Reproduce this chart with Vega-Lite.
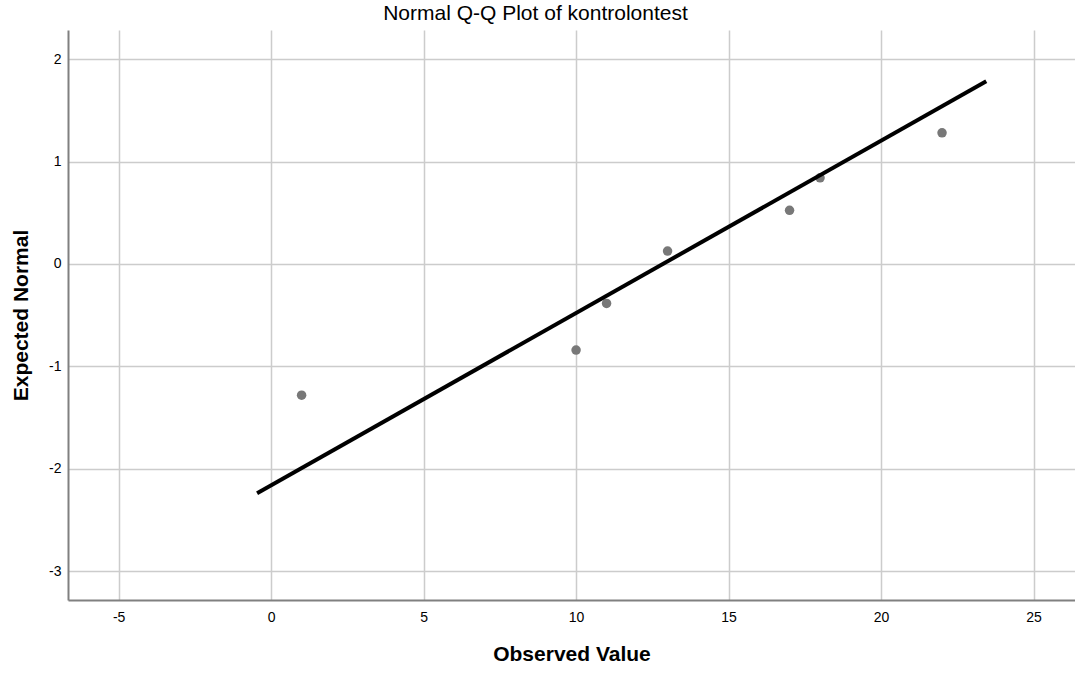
{
  "$schema": "https://vega.github.io/schema/vega-lite/v6.json",
  "autosize": {"type": "none"},
  "width": 1007,
  "height": 570,
  "padding": {"left": 68, "top": 30, "right": 0, "bottom": 75},
  "background": "white",
  "title": {
    "text": "Normal Q-Q Plot of kontrolontest",
    "font": "Liberation Sans",
    "fontSize": 21,
    "fontWeight": "normal",
    "color": "#000000",
    "anchor": "middle",
    "dx": -36,
    "offset": 6
  },
  "config": {
    "view": {"stroke": null},
    "axis": {
      "labelFont": "Liberation Sans",
      "labelFontSize": 14,
      "labelColor": "#000000",
      "titleFont": "Liberation Sans",
      "titleFontSize": 21,
      "titleFontWeight": "bold",
      "titleColor": "#000000",
      "gridColor": "#cccccc",
      "gridWidth": 1.5,
      "domainColor": "#808080",
      "domainWidth": 2,
      "ticks": false,
      "labelExpr": "'' + datum.value"
    }
  },
  "datasets": {
    "points": [
      {"observed": 1, "expected": -1.2816},
      {"observed": 10, "expected": -0.8416},
      {"observed": 11, "expected": -0.3853},
      {"observed": 13, "expected": 0.1257},
      {"observed": 17, "expected": 0.5244},
      {"observed": 18, "expected": 0.8416},
      {"observed": 22, "expected": 1.2816}
    ],
    "line": [
      {"observed": -0.46, "expected": -2.24},
      {"observed": 23.45, "expected": 1.785}
    ]
  },
  "layer": [
    {
      "data": {"name": "points"},
      "mark": {"type": "point", "filled": true, "size": 90, "color": "#787878", "opacity": 1},
      "encoding": {
        "x": {
          "field": "observed",
          "type": "quantitative",
          "title": "Observed Value",
          "scale": {"domain": [-6.66, 26.36], "nice": false, "zero": false},
          "axis": {"values": [-5, 0, 5, 10, 15, 20, 25], "labelPadding": 10, "titlePadding": 19}
        },
        "y": {
          "field": "expected",
          "type": "quantitative",
          "title": "Expected Normal",
          "scale": {"domain": [-3.283, 2.286], "nice": false, "zero": false},
          "axis": {"values": [-3, -2, -1, 0, 1, 2], "labelPadding": 7, "titlePadding": 17}
        }
      }
    },
    {
      "data": {"name": "line"},
      "mark": {"type": "line", "color": "#000000", "strokeWidth": 4, "strokeCap": "butt"},
      "encoding": {
        "x": {"field": "observed", "type": "quantitative"},
        "y": {"field": "expected", "type": "quantitative"}
      }
    }
  ]
}
